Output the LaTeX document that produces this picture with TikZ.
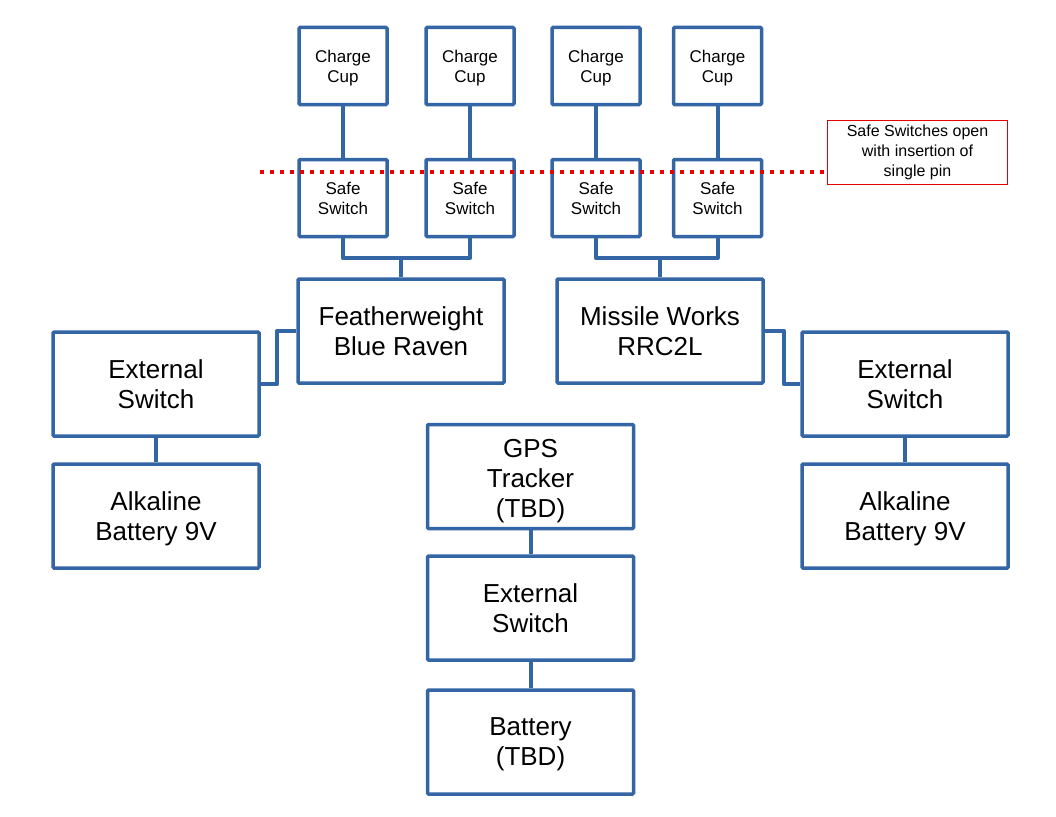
\documentclass[tikz,border=0pt]{standalone}
\usepackage{fontspec}
\setmainfont{Liberation Sans}
\usepackage{xcolor}
\usetikzlibrary{positioning}
\definecolor{box-blue}{RGB}{52, 101, 164}
\definecolor{note-red}{RGB}{230, 0, 0}
\newcommand{\lift}[1]{\rule{0pt}{#1}}

\begin{document}
\begin{tikzpicture}[x=1pt, y=-1pt]
				\tikzset{part/.style={rectangle, draw=box-blue, line width=3.5pt, fill=white, rounded corners=1pt, align=center, inner sep=0pt}}
				\tikzset{small/.style={part, minimum width=88pt, minimum height=77pt, font=\fontsize{17}{20}\selectfont}}
				\tikzset{big/.style={part, minimum width=206pt, minimum height=104pt, font=\fontsize{26}{30}\selectfont}}
				\tikzset{wire/.style={draw=box-blue, line width=4pt, line join=round}}
				\useasboundingbox (0,0) rectangle (1056,816);

				% charge cups and safe switches
				\node[small] at (343,66) (cup1) {\lift{16.5pt}Charge\\Cup};
				\node[small] at (470,66) (cup2) {\lift{16.5pt}Charge\\Cup};
				\node[small] at (596,66) (cup3) {\lift{16.5pt}Charge\\Cup};
				\node[small] at (717.5,66) (cup4) {\lift{16.5pt}Charge\\Cup};
				\node[small] at (343,198) (safe1) {Safe\\Switch};
				\node[small] at (470,198) (safe2) {Safe\\Switch};
				\node[small] at (596,198) (safe3) {Safe\\Switch};
				\node[small] at (717.5,198) (safe4) {Safe\\Switch};
				\foreach \i in {1,...,4}
					\draw[wire] (cup\i) -- (safe\i);

				% flight computers
				\node[big] at (401,331) (raven) {Featherweight\\Blue Raven};
				\node[big] at (660,331) (rrc) {Missile Works\\RRC2L};
				\draw[wire] (safe1.south) -- ++(0,20) -| (safe2.south);
				\draw[wire] (raven.north) -- ++(0,-20);
				\draw[wire] (safe3.south) -- ++(0,20) -| (safe4.south);
				\draw[wire] (rrc.north) -- ++(0,-20);

				% left power
				\node[big] at (156,384) (switch left) {External\\Switch};
				\node[big] at (156,516) (batt left) {\lift{25pt}Alkaline\\Battery 9V};
				\draw[wire] (raven.west) -- ++(-19,0) |- (switch left.east);
				\draw[wire] (switch left) -- (batt left);

				% right power
				\node[big] at (905,384) (switch right) {External\\Switch};
				\node[big] at (905,516) (batt right) {\lift{25pt}Alkaline\\Battery 9V};
				\draw[wire] (rrc.east) -- ++(19,0) |- (switch right.west);
				\draw[wire] (switch right) -- (batt right);

				% tracker
				\node[big] at (530.5,476.5) (gps) {\lift{27pt}GPS\\Tracker\\(TBD)};
				\node[big] at (530.5,608) (switch gps) {External\\Switch};
				\node[big] at (530.5,742) (batt gps) {\lift{23pt}Battery\\(TBD)};
				\draw[wire] (gps) -- (switch gps);
				\draw[wire] (switch gps) -- (batt gps);

				% pin line
				\node[draw=note-red, line width=1pt, minimum width=180pt, minimum height=64pt, inner sep=0pt, align=center, font=\fontsize{16}{20}\selectfont] at (917.5,152.5) (note) {Safe Switches open\\with insertion of\\single pin};
				\coordinate (pin start) at (260,172);
				\draw[note-red, line width=4pt, dash pattern=on 4pt off 6pt] (pin start) -- (note.west |- pin start);
\end{tikzpicture}
\end{document}
